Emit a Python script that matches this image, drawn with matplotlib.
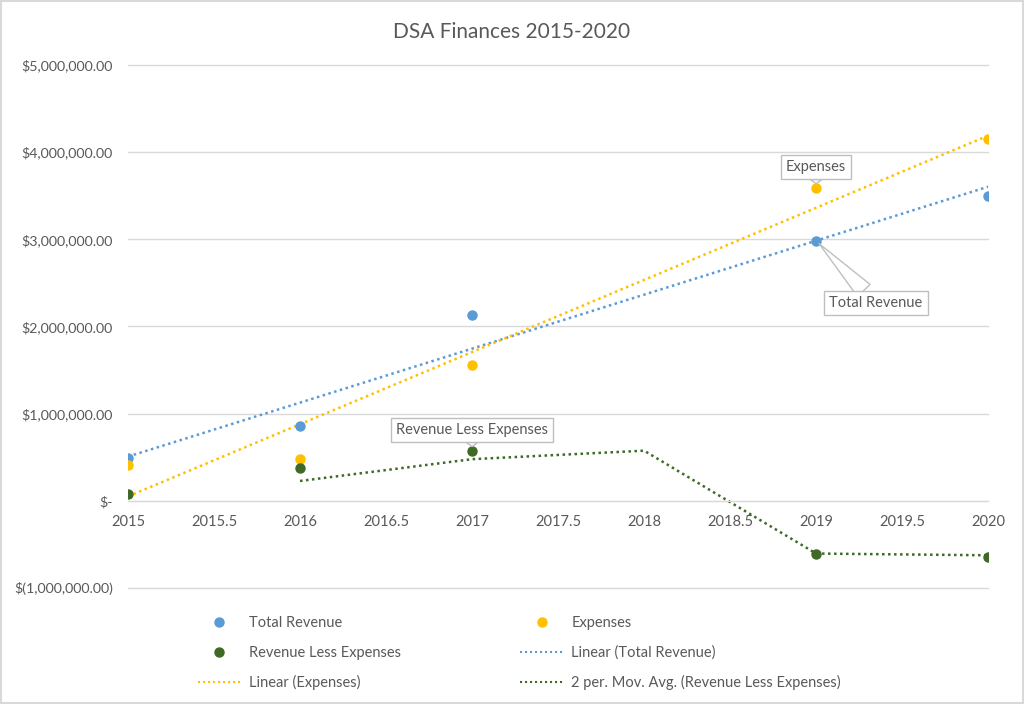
"""DSA Finances 2015-2020: scatter with trendlines, Excel look."""

import matplotlib.pyplot as plt
import numpy as np
import pandas as pd
from matplotlib.lines import Line2D
from matplotlib.patches import Rectangle
from matplotlib.ticker import FuncFormatter

BLUE = "#5B9BD5"
GOLD = "#FFC000"
GREEN = "#3E6A26"
TEXT = "#595959"
GRID = "#D9D9D9"

plt.rcParams["font.family"] = ["Lato", "DejaVu Sans"]

years = [2015, 2016, 2017, 2018, 2019, 2020]
total_revenue = [490_000, 855_000, 2_135_000, np.nan, 2_985_000, 3_500_000]
expenses = [415_000, 475_000, 1_560_000, np.nan, 3_590_000, 4_145_000]
rev_less_exp = [75_000, 380_000, 575_000, np.nan, -605_000, -645_000]

x_ticks = [2015, 2015.5, 2016, 2016.5, 2017, 2017.5, 2018, 2018.5, 2019, 2019.5, 2020]
y_ticks = [-1_000_000, 0, 1_000_000, 2_000_000, 3_000_000, 4_000_000, 5_000_000]


def _money(v, _pos):
    if v == 0:
        return "$-"
    if v < 0:
        return f"$({-v:,.2f})"
    return f"${v:,.2f}"


def _linear(xs, ys, x_eval):
    xs = np.asarray(xs, float)
    ys = np.asarray(ys, float)
    ok = ~np.isnan(ys)
    coef = np.polyfit(xs[ok], ys[ok], 1)
    return np.polyval(coef, x_eval)


fig = plt.figure(figsize=(10.24, 7.04), dpi=100)
fig.patch.set_facecolor("white")
fig.patches.append(
    Rectangle((0.001, 0.001), 0.998, 0.997, transform=fig.transFigure,
              fill=False, edgecolor=GRID, lw=1.5)
)
ax = fig.add_axes([0.125, 0.1648, 0.84, 0.743])

for v in y_ticks:
    ax.axhline(v, color=GRID, lw=1.0, zorder=0, clip_on=False)

dot = (0, (1, 1.4))
x_fit = np.array([years[0], years[-1]], float)
ax.plot(x_fit, _linear(years, total_revenue, x_fit), color=BLUE, lw=1.8,
        ls=dot, zorder=2)
ax.plot(x_fit, _linear(years, expenses, x_fit), color=GOLD, lw=1.8,
        ls=dot, zorder=2)

# Excel 2-period moving average, blank 2018 counts as a gap
ma = pd.Series(rev_less_exp, index=years).rolling(2, min_periods=1).mean()
ax.plot(ma.index[1:], ma.values[1:], color=GREEN, lw=1.8, ls=dot, zorder=2)

ax.plot(years, total_revenue, "o", color=BLUE, ms=6.5, zorder=3)
ax.plot(years, expenses, "o", color=GOLD, ms=6.5, zorder=3)
ax.plot(years, rev_less_exp, "o", color=GREEN, ms=6.5, zorder=3)

box = {"boxstyle": "square,pad=0.35", "facecolor": "white", "edgecolor": "#BFBFBF", "lw": 1.0}


def _wedge(width):
    return {"arrowstyle": f"wedge,tail_width={width},shrink_factor=0.5",
            "facecolor": "white", "edgecolor": "#BFBFBF", "lw": 1.0,
            "shrinkA": 0, "shrinkB": 3}


ax.annotate("Expenses", xy=(years[4], expenses[4]), xytext=(0, 15),
            textcoords="offset points", ha="center", va="center",
            fontsize=10.5, color=TEXT, bbox=box, arrowprops=_wedge(0.8), zorder=5)
ax.annotate("Total Revenue", xy=(years[4], total_revenue[4]), xytext=(43, -45),
            textcoords="offset points", ha="center", va="center",
            fontsize=10.5, color=TEXT, bbox=box, arrowprops=_wedge(1.2), zorder=5)
ax.annotate("Revenue Less Expenses", xy=(years[2], rev_less_exp[2]), xytext=(0, 15),
            textcoords="offset points", ha="center", va="center",
            fontsize=10.5, color=TEXT, bbox=box, arrowprops=_wedge(0.8), zorder=5)

ax.set_xlim(2015, 2020)
ax.set_ylim(-1_000_000, 5_000_000)
ax.set_xticks(x_ticks)
ax.set_xticklabels([f"{t:g}" for t in x_ticks])
ax.set_yticks(y_ticks)
ax.yaxis.set_major_formatter(FuncFormatter(_money))
for name in ("top", "right", "left"):
    ax.spines[name].set_visible(False)
ax.spines["bottom"].set_position(("data", 0))
ax.spines["bottom"].set_color(GRID)
ax.tick_params(axis="both", length=0, colors=TEXT, labelsize=10.5)
ax.tick_params(axis="x", pad=10)
ax.tick_params(axis="y", pad=11, labelsize=10.2)

fig.text(0.5, 0.955, "DSA Finances 2015-2020", ha="center", va="center",
         fontsize=15, color=TEXT)


def _pt(c):
    return Line2D([], [], ls="none", marker="o", color=c, ms=6.5)


def _ln(c):
    return Line2D([], [], color=c, lw=1.5, ls=(0, (1, 1.4)))


handles = [_pt(BLUE), _pt(GREEN), _ln(GOLD), _pt(GOLD), _ln(BLUE), _ln(GREEN)]
labels = ["Total Revenue", "Revenue Less Expenses", "Linear (Expenses)",
          "Expenses", "Linear (Total Revenue)",
          "2 per. Mov. Avg. (Revenue Less Expenses)"]
fig.legend(handles, labels, loc="center", bbox_to_anchor=(0.507, 0.072), ncol=2,
           frameon=False, fontsize=10.5, labelcolor=TEXT, handlelength=3.0,
           handletextpad=0.5, columnspacing=8.2, labelspacing=1.05)

fig.savefig("out.png", dpi=100, facecolor="white")
